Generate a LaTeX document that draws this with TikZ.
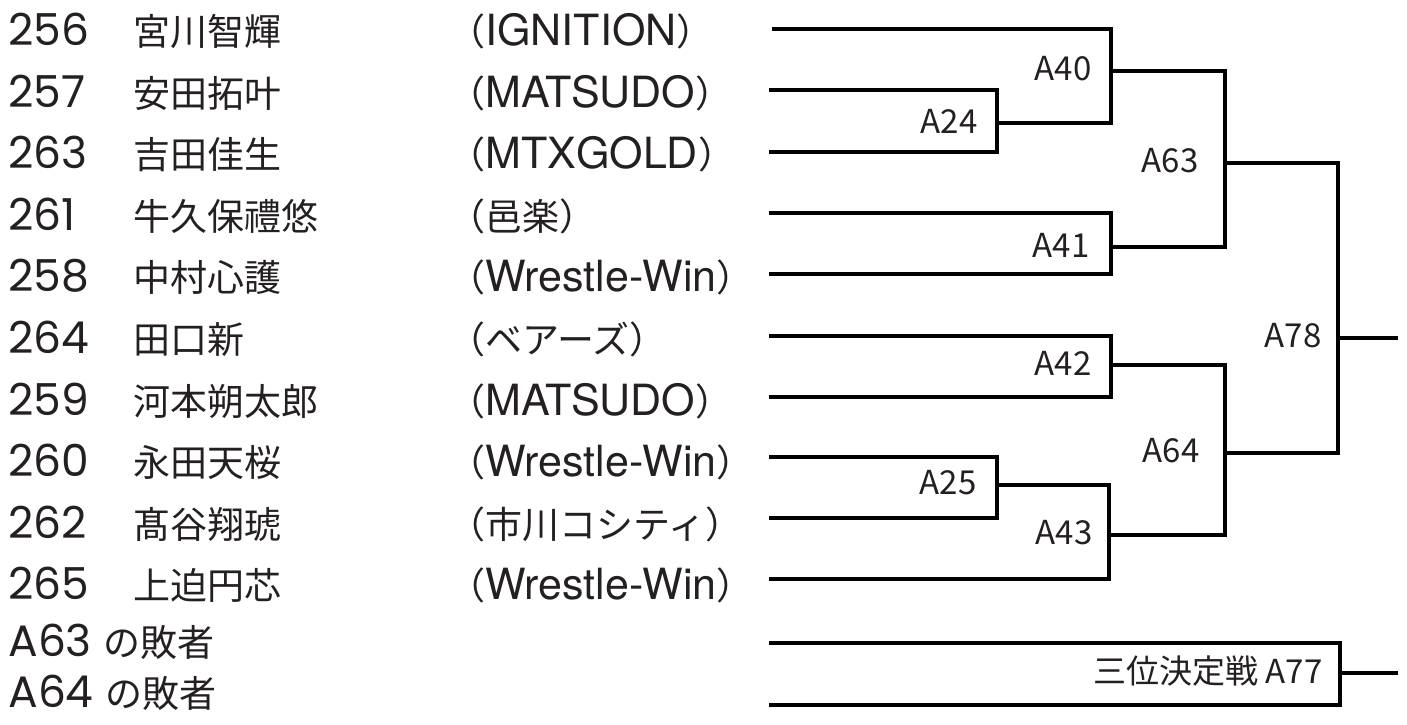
\documentclass[tikz,border=0pt]{standalone}
\usepackage{fontspec}
\setmainfont{Poppins}
\newfontfamily\jpfont{Noto Sans CJK JP}
\newfontfamily\clubfont{TeX Gyre Heros}
\definecolor{brkink}{rgb}{0.14,0.12,0.13}
\usetikzlibrary{positioning}
\newcommand{\jpname}{\fontsize{18.5}{22}\jpfont}
\newcommand{\clubL}{{\jpname （}}
\newcommand{\clubR}{{\jpname ）}}

\begin{document}
\begin{tikzpicture}[x=0.5pt, y=-0.5pt,
  entry/.style={anchor=base west, inner sep=0pt, text=brkink,
    font=\fontsize{22}{26}\selectfont},
  jpentry/.style={anchor=base west, inner sep=0pt, text=brkink, font=\jpname},
  club/.style={anchor=base west, inner sep=0pt, text=brkink,
    font=\fontsize{21.5}{25}\clubfont},
  bout/.style={line width=2pt, line join=miter},
  mlabel/.style={inner sep=0pt, text=brkink,
    font=\fontsize{16.5}{20}\jpfont, yshift=1pt}]
\useasboundingbox (0,0) rectangle (1407,724);

% entries
\node[entry] (n256) at (8,45) {256};
\node[jpentry] (m256) at (133,45) {宮川智輝};
\node[club] (c256) at (448,45) {\clubL IGNITION\clubR};
\node[entry] (n257) at (8,107) {257};
\node[jpentry] (m257) at (133,107) {安田拓叶};
\node[club] (c257) at (448,107) {\clubL MATSUDO\clubR};
\node[entry] (n263) at (8,168) {263};
\node[jpentry] (m263) at (133,168) {吉田佳生};
\node[club] (c263) at (448,168) {\clubL MTXGOLD\clubR};
\node[entry] (n261) at (8,230) {261};
\node[jpentry] (m261) at (133,230) {牛久保禮悠};
\node[jpentry] (c261) at (448,230) {（邑楽）};
\node[entry] (n258) at (8,291) {258};
\node[jpentry] (m258) at (133,291) {中村心護};
\node[club] (c258) at (448,291) {\clubL Wrestle-Win\clubR};
\node[entry] (n264) at (8,353) {264};
\node[jpentry] (m264) at (133,353) {田口新};
\node[jpentry] (c264) at (448,353) {（ベアーズ）};
\node[entry] (n259) at (8,415) {259};
\node[jpentry] (m259) at (133,415) {河本朔太郎};
\node[club] (c259) at (448,415) {\clubL MATSUDO\clubR};
\node[entry] (n260) at (8,476) {260};
\node[jpentry] (m260) at (133,476) {永田天桜};
\node[club] (c260) at (448,476) {\clubL Wrestle-Win\clubR};
\node[entry] (n262) at (8,538) {262};
\node[jpentry] (m262) at (133,538) {髙谷翔琥};
\node[jpentry] (c262) at (448,538) {（市川コシティ）};
\node[entry] (n265) at (8,599) {265};
\node[jpentry] (m265) at (133,599) {上迫円芯};
\node[club] (c265) at (448,599) {\clubL Wrestle-Win\clubR};
\node[entry] (x63) at (8,656) {A63 {\jpname の敗者}};
\node[entry] (x64) at (8,707) {A64 {\jpname の敗者}};

% bracket ends
\coordinate (r0) at (772,29);
\coordinate (r1) at (769,90);
\coordinate (r2) at (769,152);
\coordinate (r3) at (769,213);
\coordinate (r4) at (769,274);
\coordinate (r5) at (769,336);
\coordinate (r6) at (769,397);
\coordinate (r7) at (769,457);
\coordinate (r8) at (769,518);
\coordinate (r9) at (769,579);
\coordinate (r10) at (769,643);
\coordinate (r11) at (769,705);

% bouts
\coordinate (a24) at (997,123);
\coordinate (a40) at (1111,71);
\coordinate (a41) at (1111,247);
\coordinate (a63) at (1225,163);
\coordinate (a42) at (1111,365);
\coordinate (a25) at (997,485);
\coordinate (a43) at (1109,535);
\coordinate (a64) at (1225,453);
\coordinate (a78) at (1338,338);
\coordinate (w78) at (1398,338);
\coordinate (a77) at (1340,673);
\coordinate (w77) at (1398,673);

\draw[bout] (r1) -| (a24) |- (r2);
\draw[bout] (r0) -| (a40) |- (a24);
\draw[bout] (r3) -| (a41) |- (r4);
\draw[bout] (a40) -| (a63) |- (a41);
\draw[bout] (r5) -| (a42) |- (r6);
\draw[bout] (r7) -| (a25) |- (r8);
\draw[bout] (a25) -| (a43) |- (r9);
\draw[bout] (a42) -| (a64) |- (a43);
\draw[bout] (a63) -| (a78) |- (a64);
\draw[bout] (a78) -- (w78);
\draw[bout] (r10) -| (a77) |- (r11);
\draw[bout] (a77) -- (w77);

\node[mlabel, left=9.5pt of a24] (l24) {A24};
\node[mlabel, left=9.5pt of a40] (l40) {A40};
\node[mlabel, left=10.5pt of a41] (l41) {A41};
\node[mlabel, left=13pt of a63] (l63) {A63};
\node[mlabel, left=9.5pt of a42] (l42) {A42};
\node[mlabel, left=10pt of a25] (l25) {A25};
\node[mlabel, left=8pt of a43] (l43) {A43};
\node[mlabel, left=12.5pt of a64] (l64) {A64};
\node[mlabel, left=8pt of a78] (l78) {A78};
\node[mlabel, left=8.5pt of a77] (l77) {三位決定戦 A77};
\end{tikzpicture}
\end{document}
